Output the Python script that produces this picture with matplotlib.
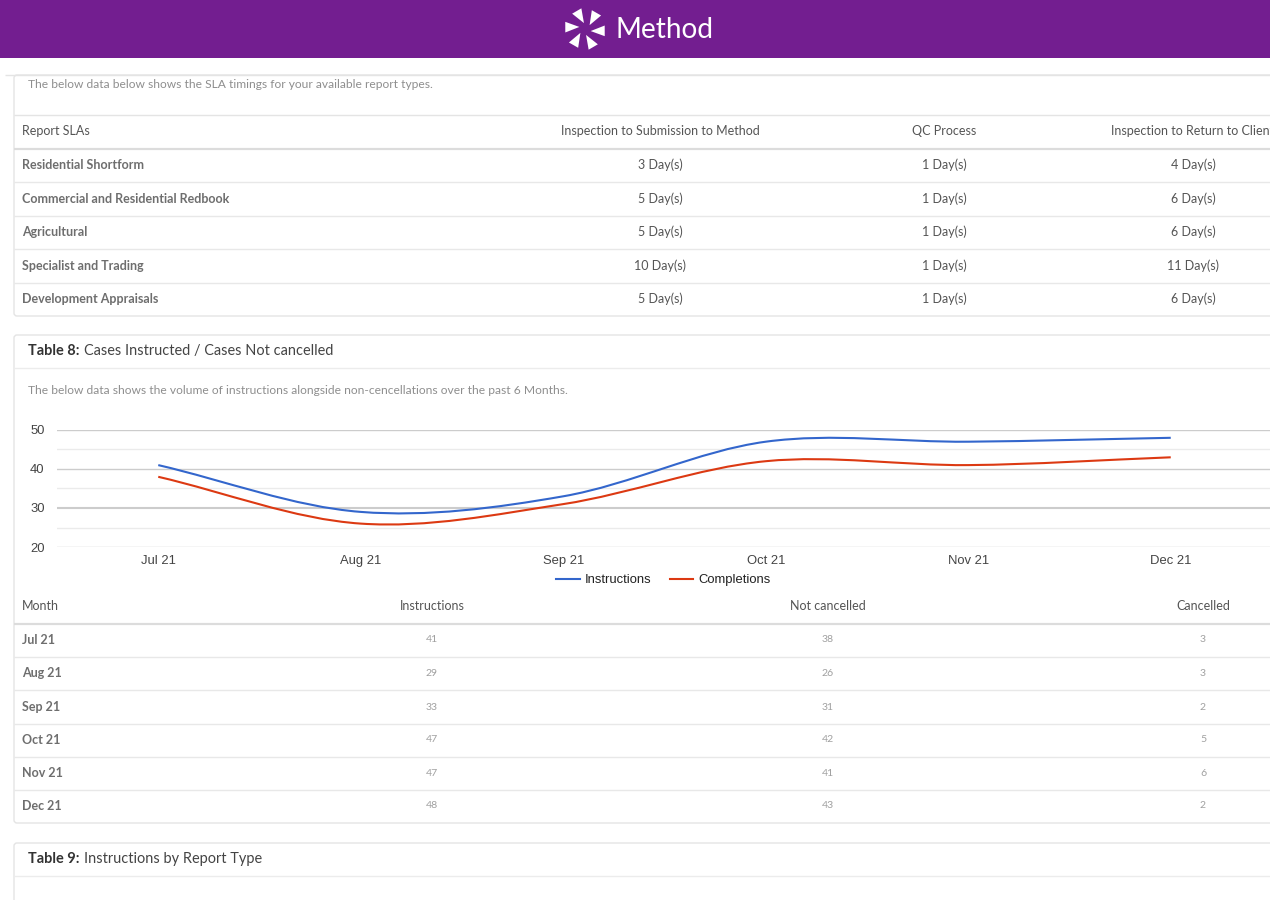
import numpy as np
import matplotlib
matplotlib.use("Agg")
from matplotlib import pyplot as plt
from matplotlib.path import Path
from matplotlib.patches import PathPatch, Rectangle, Polygon, FancyBboxPatch
from matplotlib.lines import Line2D

# data
months = ["Jul 21", "Aug 21", "Sep 21", "Oct 21", "Nov 21", "Dec 21"]
instructions = [41, 29, 33, 47, 47, 48]
not_cancelled = [38, 26, 31, 42, 41, 43]
cancelled = [3, 3, 2, 5, 6, 2]

sla_header = ["Report SLAs", "Inspection to Submission to Method", "QC Process",
              "Inspection to Return to Client"]
sla_types = ["Residential Shortform", "Commercial and Residential Redbook",
             "Agricultural", "Specialist and Trading", "Development Appraisals"]
sla_submit = [3, 5, 5, 10, 5]
sla_qc = [1, 1, 1, 1, 1]
sla_return = [4, 6, 6, 11, 6]

month_header = ["Month", "Instructions", "Not cancelled", "Cancelled"]

PURPLE = "#731e90"
BORDER = "#e4e4e4"
TXT = "#555555"
LIGHT = "#8e8e8e"
BLUE = "#3366cc"
RED = "#dc3912"
PAGE_FONT = ["Lato", "DejaVu Sans"]
CHART_FONT = ["Liberation Sans", "DejaVu Sans"]

fig = plt.figure(figsize=(12.7, 9), dpi=100)
page = fig.add_axes([0, 0, 1, 1])
page.set_xlim(0, 1270)
page.set_ylim(900, 0)
page.axis("off")

def px(v):
    return v * 72 / 100.0

# header bar + logo
page.add_patch(Rectangle((0, 0), 1270, 58, color=PURPLE, lw=0))
cx, cy = 585, 29
for k in range(6):
    a = np.deg2rad(100 + 60 * k)
    pts = []
    for r, da in [(6, 0), (21, 0), (20, 30)]:
        pts.append((cx + r * np.cos(a + np.deg2rad(da)), cy - r * np.sin(a + np.deg2rad(da))))
    page.add_patch(Polygon(pts, closed=True, color="white", lw=0))
page.text(616, 30, "Method", color="white", fontsize=px(28),
          family=PAGE_FONT, va="center", ha="left")

def hline(y, x0=14, x1=1270, color=BORDER, lw=1.0):
    page.plot([x0, x1], [y, y], color=color, lw=lw, solid_capstyle="butt")

# card 1: SLA table
page.add_patch(FancyBboxPatch((14, 75), 1300, 241, boxstyle="round,pad=0,rounding_size=3",
                              fc="white", ec=BORDER, lw=1.0))
hline(75, x0=5)
page.text(28, 84, "The below data below shows the SLA timings for your available report types.",
          color=LIGHT, fontsize=px(12), family=PAGE_FONT, va="center")
hline(115)
sla_cols = [22, 660, 944, 1193]
for i, h in enumerate(sla_header):
    page.text(sla_cols[i], 131, h, color=TXT, fontsize=px(12.5), family=PAGE_FONT,
              va="center", ha="left" if i == 0 else "center", clip_on=True)
hline(149, color="#dcdcdc", lw=1.6)
row_y = [165, 199, 232, 266, 299]
for j, name in enumerate(sla_types):
    y = row_y[j]
    page.text(sla_cols[0], y, name, color=TXT, fontsize=px(12.5), family=PAGE_FONT,
              fontweight="bold", va="center", alpha=0.85)
    vals = [sla_submit[j], sla_qc[j], sla_return[j]]
    for c, v in enumerate(vals):
        page.text(sla_cols[c + 1], y, f"{v} Day(s)", color=TXT, fontsize=px(12.5),
                  family=PAGE_FONT, va="center", ha="center")
    if j < len(sla_types) - 1:
        hline(y + 17, color="#e8e8e8")

# card 2: chart + monthly table
page.add_patch(FancyBboxPatch((14, 335), 1300, 488, boxstyle="round,pad=0,rounding_size=3",
                              fc="white", ec=BORDER, lw=1.0))
page.text(28, 351, "Table 8:", color="#333333", fontsize=px(14.5), fontweight="bold",
          family=PAGE_FONT, va="center")
page.text(84, 351, "Cases Instructed / Cases Not cancelled", color="#444444",
          fontsize=px(14.5), family=PAGE_FONT, va="center")
hline(368, color="#ececec")
page.text(28, 390, "The below data shows the volume of instructions alongside non-cencellations over the past 6 Months.",
          color=LIGHT, fontsize=px(12), family=PAGE_FONT, va="center")

mcols = [22, 432, 828, 1203]
for i, h in enumerate(month_header):
    page.text(mcols[i], 606, h, color=TXT, fontsize=px(12.5), family=PAGE_FONT,
              va="center", ha="left" if i == 0 else "center")
hline(624, color="#dcdcdc", lw=1.6)
mrow_y = [640, 673, 707, 740, 773, 806]
for j, m in enumerate(months):
    y = mrow_y[j]
    page.text(mcols[0], y, m, color=TXT, fontsize=px(12.5), fontweight="bold",
              family=PAGE_FONT, va="center", alpha=0.85)
    for c, v in enumerate([instructions[j], not_cancelled[j], cancelled[j]]):
        page.text(mcols[c + 1], y, str(v), color="#a0a0a0", fontsize=px(10.5),
                  family=PAGE_FONT, va="center", ha="center")
    if j < len(months) - 1:
        hline(y + 17, color="#e8e8e8")

# card 3
page.add_patch(FancyBboxPatch((14, 843), 1300, 100, boxstyle="round,pad=0,rounding_size=3",
                              fc="white", ec=BORDER, lw=1.0))
page.text(28, 859, "Table 9:", color="#333333", fontsize=px(14.5), fontweight="bold",
          family=PAGE_FONT, va="center")
page.text(84, 859, "Instructions by Report Type", color="#444444", fontsize=px(14.5),
          family=PAGE_FONT, va="center")
hline(876, color="#ececec")

# line chart
L, R, T, B = 57, 1272, 430, 547
ax = fig.add_axes([L / 1270, 1 - B / 900, (R - L) / 1270, (B - T) / 900])
ax.set_xlim(-0.5, len(months) - 0.5)
ax.set_ylim(20, 50)
ax.patch.set_alpha(0)
for s in ax.spines.values():
    s.set_visible(False)
for g in [25, 35, 45]:
    ax.axhline(g, color="#ebebeb", lw=1.0, zorder=0)
for g in [20, 30, 40, 50]:
    ax.axhline(g, color="#cccccc", lw=1.5 if g == 30 else 1.0, zorder=0)
ax.set_yticks([20, 30, 40, 50])
ax.set_xticks(range(len(months)))
ax.set_xticklabels(months)
ax.tick_params(length=0, labelsize=px(13), labelcolor="#444444", pad=6)
ax.tick_params(axis="y", pad=9)
for lab in ax.get_xticklabels() + ax.get_yticklabels():
    lab.set_family(CHART_FONT)

def smooth_path(vals):
    # catmull-rom style tangents, drawn as cubic bezier segments
    x = np.arange(len(vals), dtype=float)
    y = np.asarray(vals, dtype=float)
    n = len(y)
    m = np.zeros(n)
    m[1:-1] = (y[2:] - y[:-2]) / 2.0
    m[0] = y[1] - y[0]
    m[-1] = y[-1] - y[-2]
    verts = [(x[0], y[0])]
    codes = [Path.MOVETO]
    for i in range(n - 1):
        verts += [(x[i] + 1 / 3, y[i] + m[i] / 3), (x[i + 1] - 1 / 3, y[i + 1] - m[i + 1] / 3),
                  (x[i + 1], y[i + 1])]
        codes += [Path.CURVE4] * 3
    return Path(verts, codes)

for vals, col in [(instructions, BLUE), (not_cancelled, RED)]:
    ax.add_patch(PathPatch(smooth_path(vals), fc="none", ec=col, lw=1.5, zorder=3))

handles = [Line2D([], [], color=BLUE, lw=1.5), Line2D([], [], color=RED, lw=1.5)]
leg = ax.legend(handles, ["Instructions", "Completions"], loc="center",
                bbox_to_anchor=(0.499, -0.285), ncol=2, frameon=False,
                prop={"family": CHART_FONT, "size": px(13)}, handlelength=1.8,
                handletextpad=0.4, columnspacing=1.4)
for t in leg.get_texts():
    t.set_color("#222222")

fig.savefig("out.png", dpi=100)
